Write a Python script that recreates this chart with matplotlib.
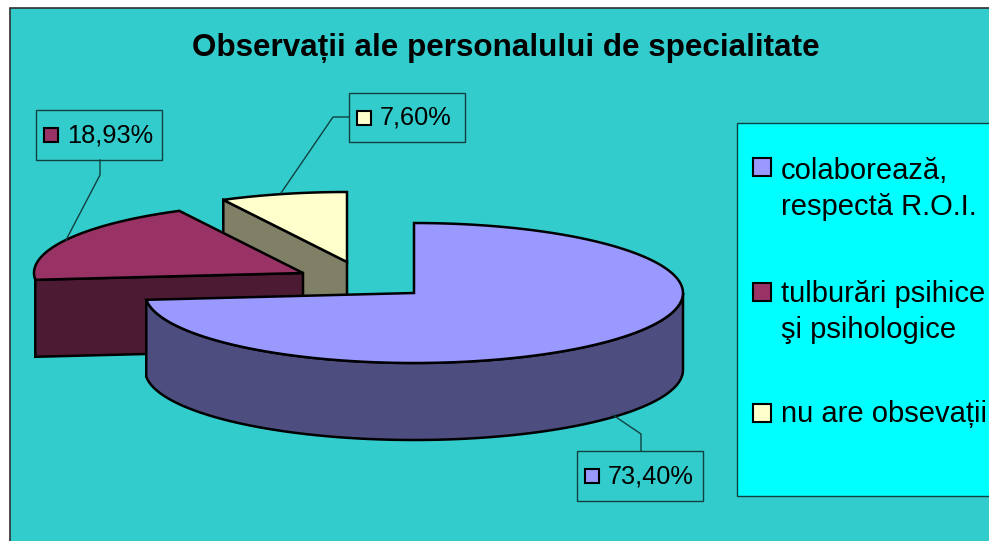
import numpy as np
import matplotlib
matplotlib.use('Agg')
import matplotlib.pyplot as plt
from matplotlib.patches import Polygon, Rectangle

plt.rcParams['font.family'] = ['Liberation Sans', 'DejaVu Sans']

title = 'Observații ale personalului de specialitate'
legend_labels = ['colaborează,\nrespectă R.O.I.', 'tulburări psihice\nşi psihologice', 'nu are obsevații']
values = [73.40, 18.93, 7.60]
top_colors = ['#9999FF', '#993366', '#FFFFCC']
wall_colors = ['#4D4D80', '#4D1A33', '#808066']

fig = plt.figure(figsize=(9.89, 5.41), dpi=100)
ax = fig.add_axes([0, 0, 1, 1])
ax.set_xlim(0, 989)
ax.set_ylim(541, 0)
ax.axis('off')

# background and legend panel
ax.add_patch(Rectangle((9.5, 7.5), 990, 540, fc='#33CCCC', ec='#303030', lw=1.2))
ax.add_patch(Rectangle((737, 123), 260, 373, fc='#00FFFF', ec='#104040', lw=1))
ax.text(506, 48, title, fontsize=22.6, fontweight='bold', ha='center', va='center', color='black')

# pie geometry: angles run clockwise from 12 o'clock
rx, ry, depth = 269, 70, 77
centers = [(414, 293), (303, 273), (347, 262)]
shares = np.array(values) / sum(values) * 2 * np.pi
ends = np.cumsum(shares)
starts = ends - shares


def arc(c, a, b):
    t = np.linspace(a, b, 120)
    return np.column_stack([c[0] + rx * np.sin(t), c[1] - ry * np.cos(t)])


def drop(pts):
    return pts + np.array([0, depth])


def shape(pts, color):
    ax.add_patch(Polygon(pts, closed=True, fc=color, ec='black', lw=1.8, joinstyle='miter'))


# back to front: nu are, tulburari, colaboreaza
for i in [2, 1, 0]:
    c = np.array(centers[i], dtype=float)
    a, b = starts[i], ends[i]
    if i == 0:
        front = arc(c, np.pi / 2, b)
        shape(np.vstack([front, drop(front)[::-1]]), wall_colors[i])
    else:
        edge = arc(c, a, a)[:1]
        wall = np.vstack([edge, [c], drop(np.array([c])), drop(edge)])
        shape(wall, wall_colors[i])
    shape(np.vstack([[c], arc(c, a, b)]), top_colors[i])

# data labels with leader lines
boxes = [(577, 451, 126, 50), (36, 110, 126, 50), (349, 93, 116, 49)]
leaders = [[(641, 451), (641, 434), (613, 415)],
           [(100, 160), (100, 175), (66, 240)],
           [(349, 117), (333, 117), (281, 193)]]
for i in range(3):
    x, y, w, h = boxes[i]
    ax.add_patch(Rectangle((x, y), w, h, fc='none', ec='#104040', lw=1))
    ax.add_patch(Rectangle((x + 8, y + 18), 14, 14, fc=top_colors[i], ec='black', lw=1.5))
    ax.text(x + 31, y + h / 2 + 0.5, f'{values[i]:.2f}%'.replace('.', ','), fontsize=18.3,
            ha='left', va='center', color='black')
    pts = np.array(leaders[i])
    ax.plot(pts[:, 0], pts[:, 1], color='#104040', lw=1)

# legend
swatch_y = [158, 283, 404]
text_y = [189, 312, 414]
for i in range(3):
    ax.add_patch(Rectangle((753, swatch_y[i]), 18, 18, fc=top_colors[i], ec='black', lw=1.5))
    ax.text(781, text_y[i], legend_labels[i], fontsize=21, ha='left', va='center',
            color='black', linespacing=1.32)

fig.savefig('out.png', dpi=100)
